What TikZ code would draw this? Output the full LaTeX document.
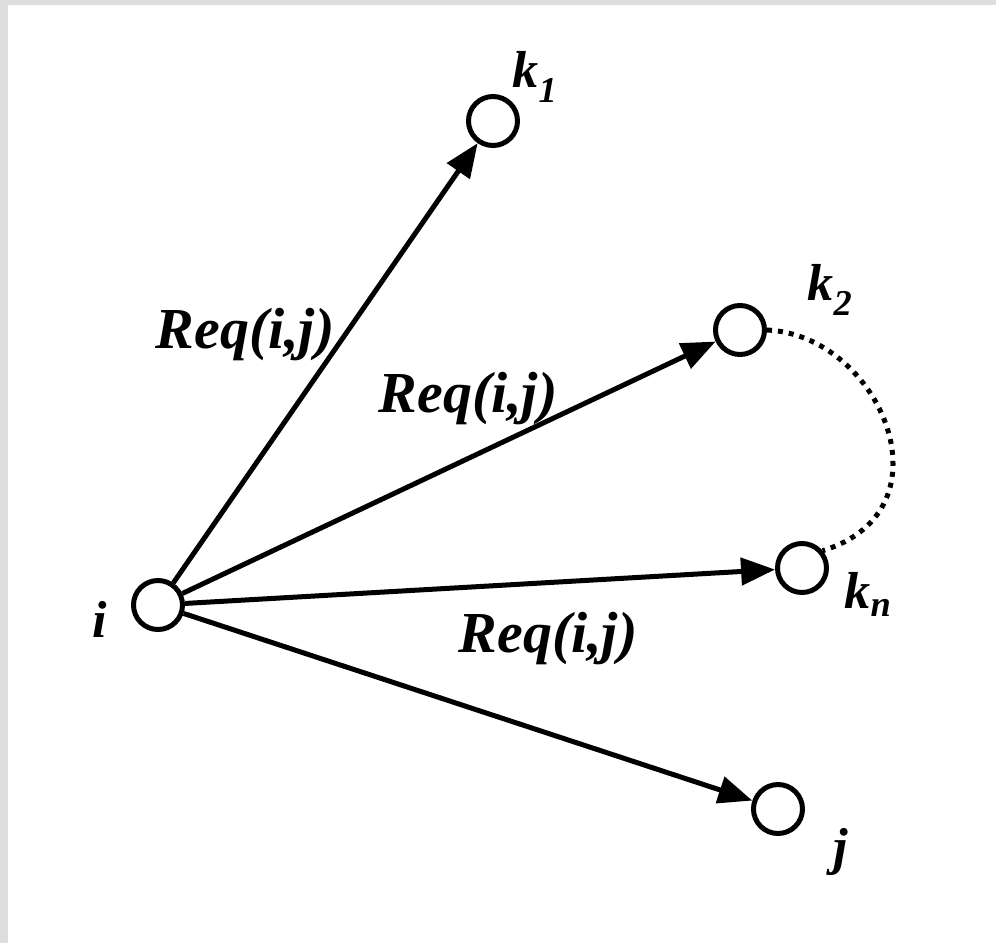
\documentclass[tikz,border=0pt]{standalone}
\usepackage{fontspec}
\setmainfont{Liberation Serif}
\usetikzlibrary{arrows.meta}
\begin{document}
\begin{tikzpicture}[x=1pt,y=-1pt,>={Triangle[length=34pt,width=27pt]},
  site/.style={draw,circle,line width=5pt,minimum size=49pt,inner sep=0pt},
  req/.style={font=\fontsize{58}{60}\selectfont\bfseries\itshape,inner sep=0pt,anchor=base},
  sitetag/.style={font=\fontsize{52}{54}\selectfont\bfseries\itshape,inner sep=0pt,anchor=base},
  link/.style={->,line width=5pt}]
\fill[black!13] (0,0) rectangle (8,943);
\fill[black!13] (0,0) rectangle (996,5);
\useasboundingbox (0,0) rectangle (996,943);
\node[site] (i) at (158,605) {};
\node[site] (k1) at (493,121) {};
\node[site] (k2) at (740,330) {};
\node[site] (kn) at (802,568) {};
\node[site] (j) at (778,809) {};
\node[sitetag] (li) at (100,637) {i};
\node[sitetag] (lk1) at (535,87) {k\textsubscript{1}};
\node[sitetag] (lk2) at (830,300) {k\textsubscript{2}};
\node[sitetag] (lkn) at (868,608) {k\textsubscript{n}};
\node[sitetag] (lj) at (841,864) {j};
\draw[link] (i) -- (k1);
\draw[link] (i) -- (k2);
\draw[link] (i) -- (kn);
\draw[link] (i) -- (j);
\draw[line width=5pt,dash pattern=on 5pt off 6pt] (k2.east) .. controls (880,335) and (955,510) .. (kn.40);
\node[req] (r1) at (245,348) {Req(i,j)};
\node[req] (r2) at (468,412) {Req(i,j)};
\node[req] (r3) at (548,652) {Req(i,j)};
\end{tikzpicture}
\end{document}
